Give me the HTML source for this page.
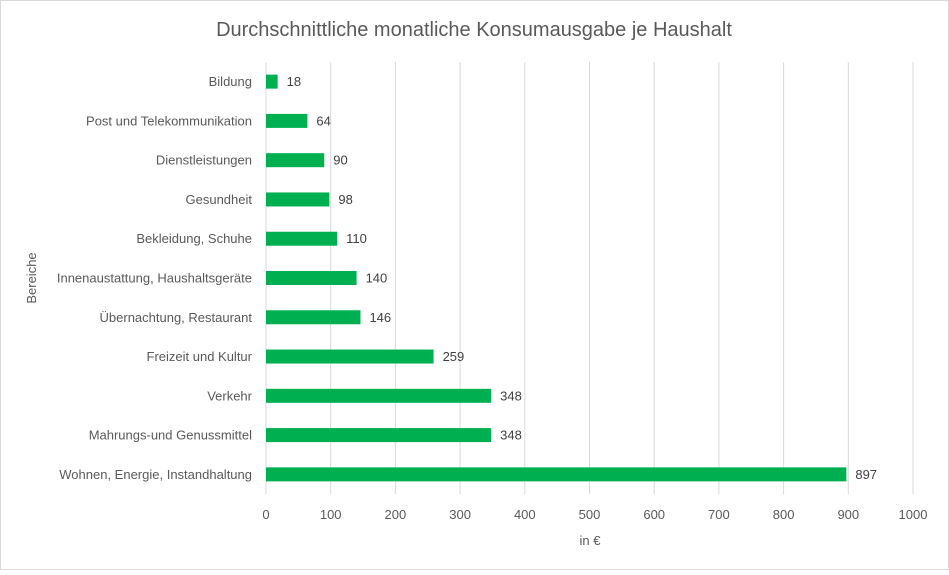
<!DOCTYPE html>
<html><head><meta charset="utf-8"><style>
body{margin:0;background:#fff;font-family:"Liberation Sans",sans-serif}
svg text{font-family:"Liberation Sans",sans-serif}
</style></head><body>
<svg id="chart" width="949" height="570" xmlns="http://www.w3.org/2000/svg">
<rect x="0.5" y="0.5" width="948" height="569" fill="#fff" stroke="#d9d9d9"/>
<text x="474" y="36" text-anchor="middle" font-size="20" fill="#595959">Durchschnittliche monatliche Konsumausgabe je Haushalt</text>
<g id="grid"></g><g id="bars"></g><g id="labels"></g>
<text x="590" y="545" text-anchor="middle" font-size="13" fill="#595959">in €</text>
<text transform="translate(36,278) rotate(-90)" text-anchor="middle" font-size="13" fill="#595959">Bereiche</text>
</svg>
<script>
const categories=["Bildung","Post und Telekommunikation","Dienstleistungen","Gesundheit","Bekleidung, Schuhe","Innenaustattung, Haushaltsgeräte","Übernachtung, Restaurant","Freizeit und Kultur","Verkehr","Mahrungs-und Genussmittel","Wohnen, Energie, Instandhaltung"];
const values=[18,64,90,98,110,140,146,259,348,348,897];
const ticks=[0,100,200,300,400,500,600,700,800,900,1000];
const NS="http://www.w3.org/2000/svg";
const x0=266,x1=913,plotTop=62,plotBot=494;
const xs=v=>x0+(v-ticks[0])/(ticks[ticks.length-1]-ticks[0])*(x1-x0);
const band=(plotBot-plotTop)/categories.length;
const yc=i=>plotTop+band*(i+0.5);
function mk(t,a,p,txt){const e=document.createElementNS(NS,t);for(const k in a)e.setAttribute(k,a[k]);if(txt!==undefined)e.textContent=txt;document.getElementById(p).appendChild(e);return e;}
ticks.forEach(t=>{
 const l=mk("line",{x1:xs(t),x2:xs(t),y1:plotTop,y2:plotBot,stroke:"#d9d9d9"},"grid");
 
 
 const tx=mk("text",{x:xs(t),y:519,"text-anchor":"middle","font-size":13,fill:"#595959"},"grid",t);
 
 
});
categories.forEach((c,i)=>{
 const b=mk("rect",{x:xs(0),y:yc(i)-7,width:xs(values[i])-xs(0),height:14,fill:"#00b050"},"bars");
 
 
 const cl=mk("text",{x:252,y:yc(i)+4.5,"text-anchor":"end","font-size":13,fill:"#595959"},"labels",c);
 
 
 const vl=mk("text",{x:xs(values[i])+9,y:yc(i)+4.5,"font-size":13,fill:"#404040"},"labels",values[i]);
 
 
});
</script>
</body></html>
